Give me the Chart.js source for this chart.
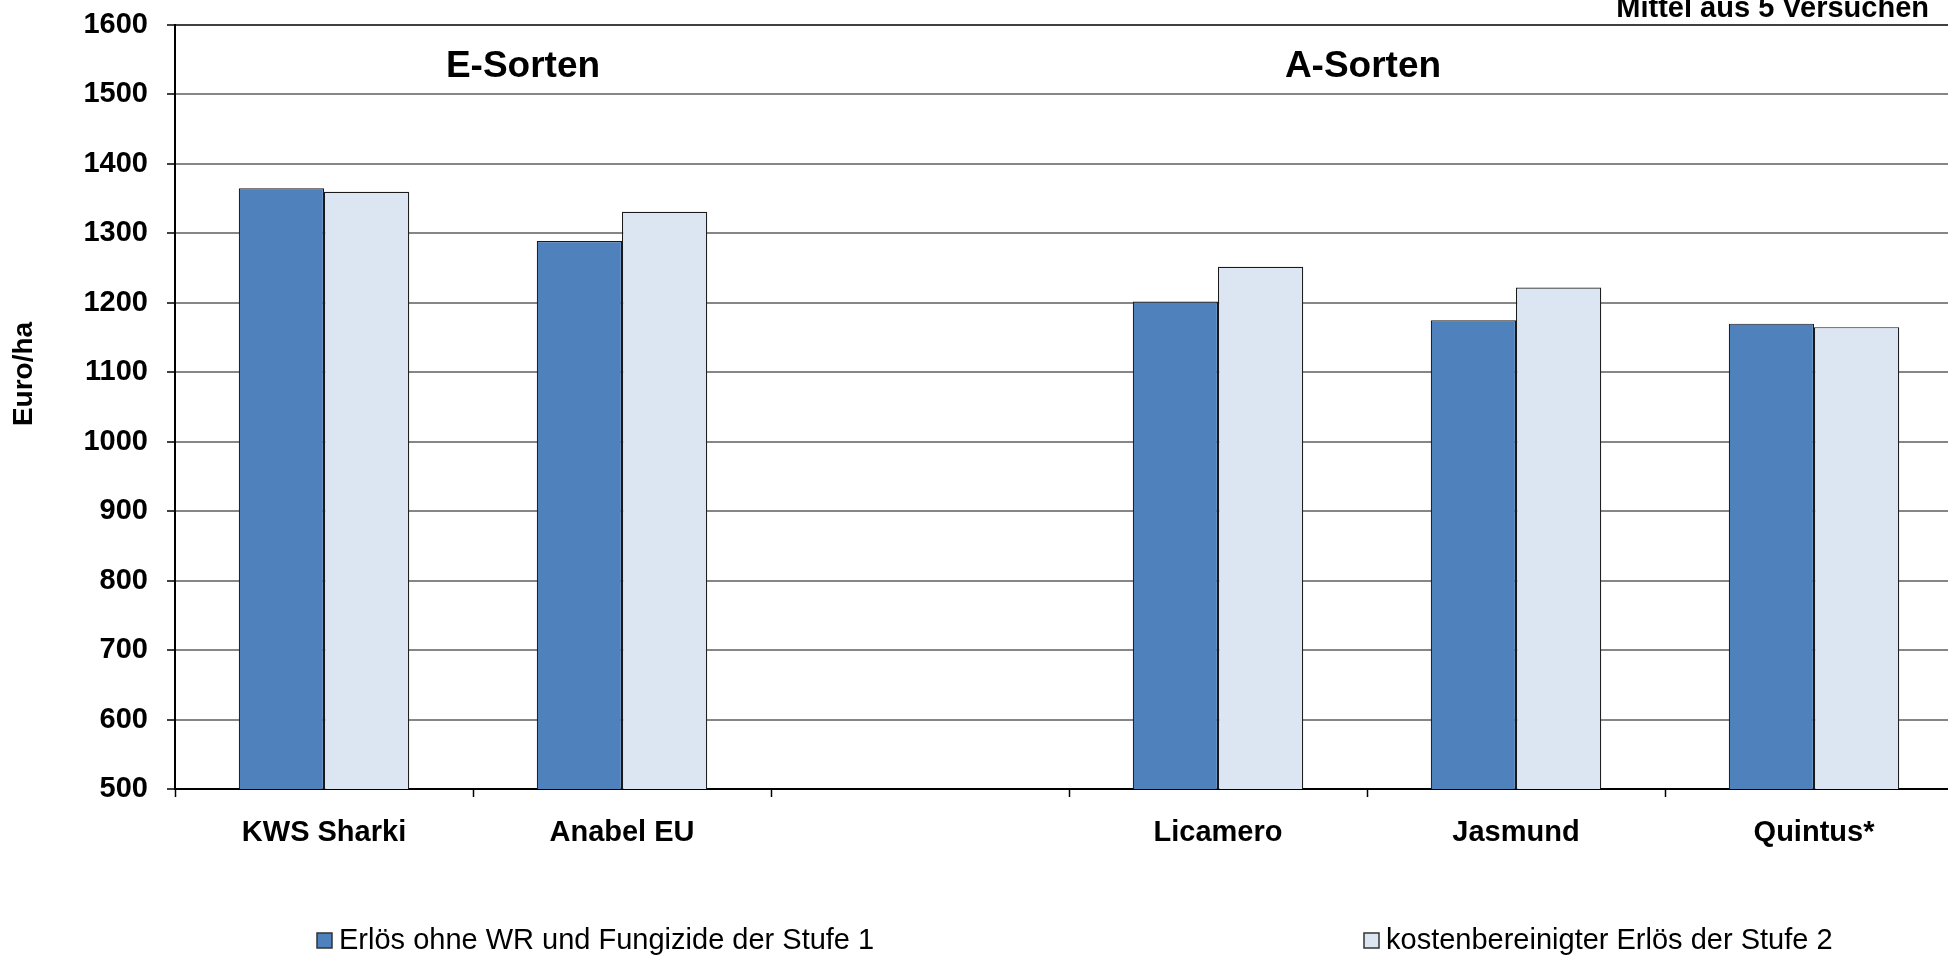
<!DOCTYPE html>
<html lang="de">
<head>
  <meta charset="UTF-8" />
  <title>Erlös Sorten</title>
  <script src="https://cdn.jsdelivr.net/npm/chart.js"></script>
  <style>
    html, body { margin: 0; padding: 0; background: #fff; overflow: hidden; }
    .wrap { position: relative; width: 1975px; height: 957px; }
  </style>
</head>
<body>
  <div class="wrap"><canvas id="chart"></canvas></div>

  <script>
    // data
    const sorten = ['KWS Sharki', 'Anabel EU', '', 'Licamero', 'Jasmund', 'Quintus*'];
    const stufe1 = [1365, 1289, null, 1202, 1175, 1170];
    const stufe2 = [1360, 1331, null, 1252, 1222, 1165];
    const seriesNames = ['Erlös ohne WR und Fungizide der Stufe 1', 'kostenbereinigter Erlös der Stufe 2'];
    const gruppen = ['E-Sorten', 'A-Sorten'];
    const yMin = 500, yMax = 1600, yStep = 100;

    const FONT = '"Liberation Sans", Arial, sans-serif';
    Chart.defaults.font.family = FONT;
    Chart.defaults.color = '#000';

    // texts that the library has no slot for: group headings, note, axis title, legend
    const extras = {
      id: 'extras',
      afterDraw(chart) {
        const ctx = chart.ctx;
        ctx.save();
        ctx.fillStyle = '#000';

        ctx.font = 'bold 37px ' + FONT;
        ctx.textAlign = 'center';
        ctx.textBaseline = 'middle';
        ctx.fillText(gruppen[0], 523, 67);
        ctx.fillText(gruppen[1], 1363, 67);

        ctx.font = 'bold 29px ' + FONT;
        ctx.textAlign = 'right';
        ctx.textBaseline = 'alphabetic';
        ctx.fillText('Mittel aus 5 Versuchen', 1929, 17);

        ctx.save();
        ctx.translate(24, 374);
        ctx.rotate(-Math.PI / 2);
        ctx.font = 'bold 28px ' + FONT;
        ctx.textAlign = 'center';
        ctx.textBaseline = 'middle';
        ctx.fillText('Euro/ha', 0, 0);
        ctx.restore();

        const legendX = [317, 1364];
        chart.data.datasets.forEach((ds, i) => {
          const x = legendX[i];
          ctx.fillStyle = ds.backgroundColor;
          ctx.fillRect(x, 933, 15, 15);
          ctx.strokeStyle = '#333';
          ctx.lineWidth = 1.5;
          ctx.strokeRect(x, 933, 15, 15);
          ctx.fillStyle = '#000';
          ctx.font = '29px ' + FONT;
          ctx.textAlign = 'left';
          ctx.textBaseline = 'alphabetic';
          ctx.fillText(ds.label, x + 22, 949);
        });
        ctx.restore();
      }
    };

    new Chart(document.getElementById('chart'), {
      type: 'bar',
      data: {
        labels: sorten,
        datasets: [
          { label: seriesNames[0], data: stufe1, backgroundColor: '#4f81bd', borderColor: '#1a1a1a', borderWidth: 1.2 },
          { label: seriesNames[1], data: stufe2, backgroundColor: '#dce6f2', borderColor: '#1a1a1a', borderWidth: 1.2 }
        ]
      },
      options: {
        responsive: true,
        maintainAspectRatio: false,
        animation: false,
        categoryPercentage: 0.572,
        barPercentage: 1.0,
        layout: { padding: { top: 25, right: 12, left: 0, bottom: 0 } },
        plugins: { legend: { display: false }, tooltip: { enabled: false } },
        scales: {
          x: {
            grid: { offset: true, drawOnChartArea: false, tickLength: 8, tickColor: '#000', tickWidth: 1.5 },
            border: { color: '#000', width: 2 },
            ticks: { font: { size: 29, weight: 'bold' }, padding: 19, maxRotation: 0, autoSkip: false },
            afterFit: s => { s.height = 168; }
          },
          y: {
            min: yMin,
            max: yMax,
            grid: {
              color: c => c.tick && c.tick.value === yMax ? '#404040' : '#868686',
              lineWidth: 2,
              tickLength: 8,
              tickColor: '#000',
              tickWidth: 1.5
            },
            border: { color: '#000', width: 2 },
            ticks: { stepSize: yStep, font: { size: 29, weight: 'bold' }, padding: 19, callback: v => String(v) },
            afterFit: s => { s.width = 175; s.paddingTop = 0; s.paddingBottom = 0; }
          }
        }
      },
      plugins: [extras]
    });
  </script>
</body>
</html>
